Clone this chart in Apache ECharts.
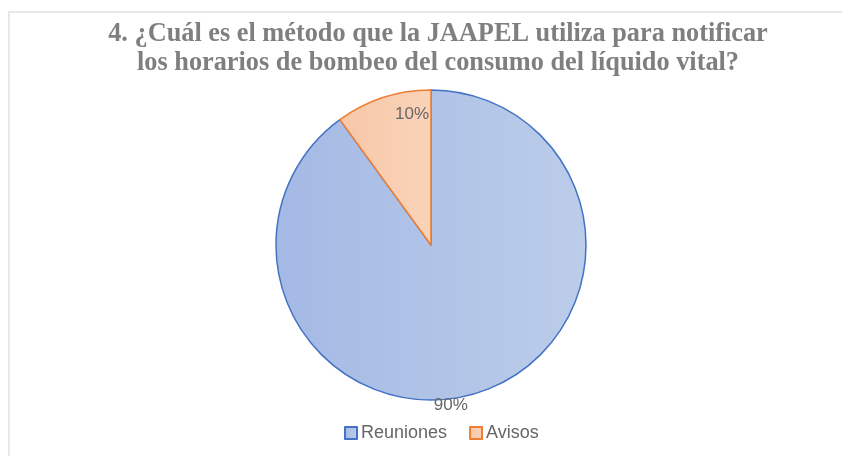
<!DOCTYPE html>
<html>
<head>
<meta charset="utf-8">
<script src="https://cdn.jsdelivr.net/npm/echarts@6/dist/echarts.min.js"></script>
<style>
    html, body {
        margin: 0;
        padding: 0;
        background: #ffffff;
    }
    #frame {
        position: absolute;
        left: 8px;
        top: 11px;
        width: 834px;
        height: 445px;
        border-left: 2px solid #e8e8e8;
        border-top: 2px solid #e8e8e8;
    }
    #chart {
        position: absolute;
        left: 0;
        top: 0;
        width: 842px;
        height: 456px;
    }
</style>
</head>
<body>
<div id="frame"></div>
<div id="chart"></div>
<script>
// chart data
const titleText =
    "4. ¿Cuál es el método que la JAAPEL utiliza para notificar\nlos horarios de bombeo del consumo del líquido vital?";
const categories = ["Reuniones", "Avisos"];
const shares = [90, 10];

const chart = echarts.init(document.getElementById("chart"));

// per-slice look (Excel style: light fill with darker outline)
const sliceStyles = [
    {
        color: new echarts.graphic.LinearGradient(0, 0, 1, 0, [
            { offset: 0, color: "#a4b9e4" },
            { offset: 1, color: "#bccdea" },
        ]),
        borderColor: "#4472c4",
        labelOffset: [-5, 84],
    },
    {
        color: new echarts.graphic.LinearGradient(0, 0, 1, 0, [
            { offset: 0, color: "#f7c7a7" },
            { offset: 1, color: "#fad3b9" },
        ]),
        borderColor: "#ed7d31",
        labelOffset: [6, -54],
    },
];

const pieData = categories.map((name, i) => ({
    name: name,
    value: shares[i],
    itemStyle: {
        color: sliceStyles[i].color,
        borderColor: sliceStyles[i].borderColor,
        borderWidth: 1.5,
    },
    label: {
        offset: sliceStyles[i].labelOffset,
    },
}));

const options = {
    animation: false,
    title: {
        text: titleText,
        // centred on x=433 (slightly right of the canvas middle)
        left: 433,
        textAlign: "center",
        top: 15,
        textStyle: {
            fontFamily: "Liberation Serif",
            fontWeight: "bold",
            fontSize: 26.3,
            lineHeight: 28.5,
            color: "#7f7f7f",
        },
    },
    legend: {
        data: categories,
        top: 419,
        left: 339,
        icon: "rect",
        itemWidth: 12,
        itemHeight: 12,
        itemGap: 22,
        textStyle: {
            fontFamily: "Liberation Sans",
            fontSize: 18,
            color: "#666666",
            padding: [0, 0, 0, -1],
        },
    },
    series: [
        {
            type: "pie",
            center: [431, 245],
            radius: 155,
            startAngle: 90,
            clockwise: true,
            data: pieData,
            label: {
                show: true,
                position: "inside",
                formatter: "{c}%",
                fontFamily: "Liberation Sans",
                fontSize: 17,
                color: "#666666",
            },
            labelLine: { show: false },
            emphasis: { disabled: true },
        },
    ],
};

chart.setOption(options);
</script>
</body>
</html>
